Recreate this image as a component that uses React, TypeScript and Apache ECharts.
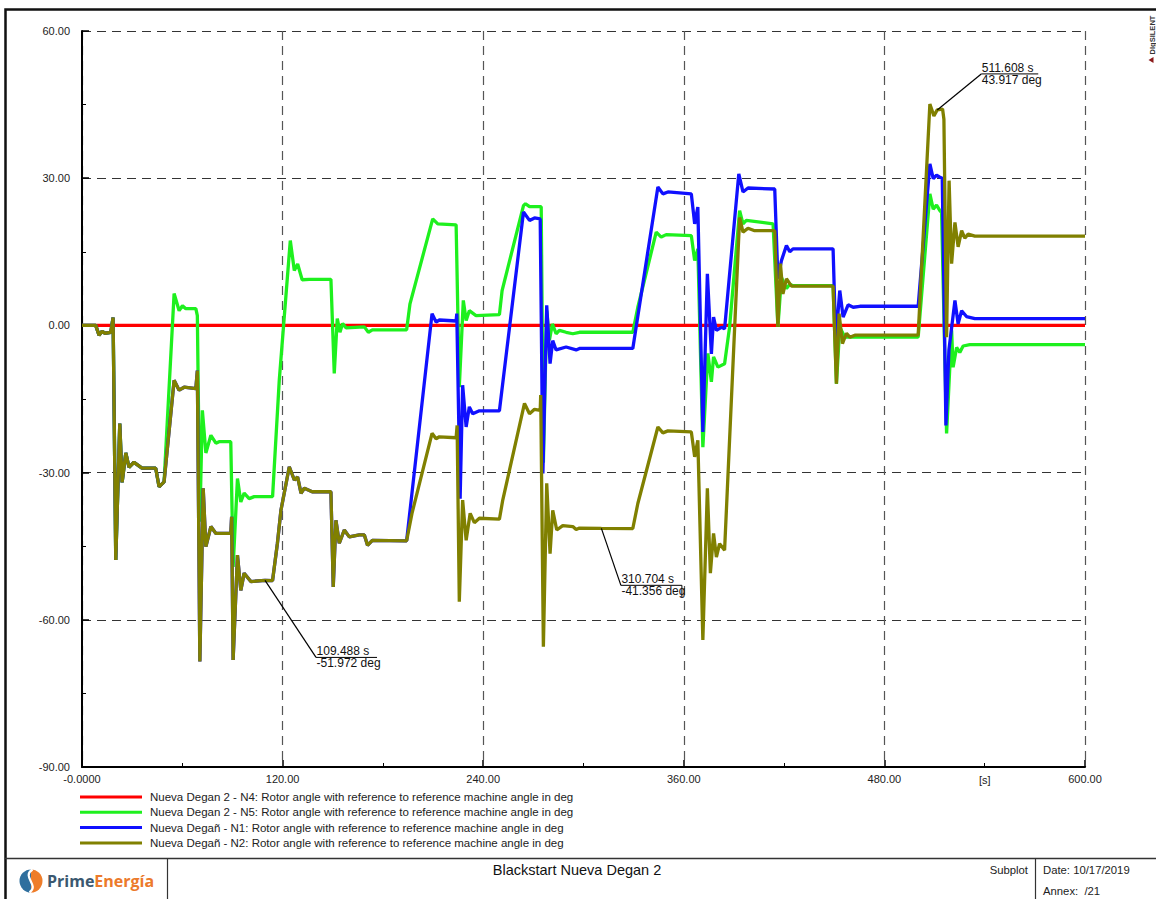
import React, { useEffect, useRef } from "react";
import * as echarts from "echarts";

const WIDTH = 1156;
const HEIGHT = 899;
const FONT = "'Liberation Sans', Arial, sans-serif";

const seriesNames = [
  "Nueva Degan 2 - N4: Rotor angle with reference to reference machine angle in deg",
  "Nueva Degan 2 - N5: Rotor angle with reference to reference machine angle in deg",
  "Nueva Degañ - N1: Rotor angle with reference to reference machine angle in deg",
  "Nueva Degañ - N2: Rotor angle with reference to reference machine angle in deg",
];
const seriesColors = ["#ff0000", "#1ef01e", "#1010ff", "#808000"];

// Axes: time in s, rotor angle in deg
const timeMin = 0;
const timeMax = 600;
const timeStep = 120;
const angleMin = -90;
const angleMax = 60;
const angleStep = 30;

type Pt = [number, number];

// First switching transient, common to N5, N1 and N2
const startTransient: Pt[] = [
  [0, 0], [8.2, 0], [10.2, -2.0], [12.0, -1.2], [13.8, -1.6], [17.2, -1.4], [18.6, 1.6],
  [20.2, -47.8], [22.6, -20.0], [24.0, -32.0], [26.2, -26.0], [28.1, -28.9], [31.1, -27.9],
  [35.9, -29.1], [44.1, -29.1], [46.1, -32.9], [49.1, -31.9],
];

// N1 and N2 swing together until ~194 s
const n1n2Mid: Pt[] = [
  [55.1, -11.2], [58.1, -13.2], [61.1, -12.6], [68.1, -12.9], [69.0, -9.2], [70.5, -68.5],
  [72.5, -33.2], [74.1, -45.1], [77.1, -41.0], [80.1, -42.4], [89.0, -42.4], [89.5, -39.0],
  [90.4, -68.2], [93.0, -46.8], [95.0, -54.0], [97.0, -50.5], [101.0, -52.2], [109.488, -51.972],
  [114.0, -52.0], [116.9, -44.4], [119.0, -37.7], [124.0, -28.8], [127.0, -31.5], [129.0, -30.9],
  [131.0, -34.2], [133.0, -33.2], [137.7, -33.9], [148.9, -33.9], [150.3, -53.3], [151.9, -39.7],
  [153.9, -44.4], [156.9, -41.7], [159.9, -43.1], [165.9, -42.7], [168.9, -42.7], [170.8, -44.8],
  [173.7, -43.8], [194.2, -43.9],
];

const n4Angle: Pt[] = [[0, 0], [600, 0]];

const n5Tail: Pt[] = [
  [55.1, 6.5], [58.1, 3.0], [60.1, 4.0], [62.1, 3.4], [68.1, 3.4], [69.0, 2.0], [70.5, -40.0],
  [72.0, -17.3], [74.1, -26.0], [77.1, -22.4], [80.1, -24.0], [82.0, -23.7], [89.0, -23.7],
  [90.4, -49.2], [93.0, -31.2], [95.0, -36.0], [97.0, -34.2], [100.0, -35.3], [103.0, -34.9],
  [114.0, -34.9], [118.0, -11.2], [124.6, 17.3], [127.0, 11.2], [129.0, 12.5], [131.7, 9.3],
  [135.9, 9.4], [148.9, 9.4], [150.9, -9.8], [152.7, 1.4], [154.3, -1.4], [155.9, 0.4],
  [157.9, -0.5], [168.9, -0.3], [171.3, -1.4], [173.7, -0.9], [194.2, -0.9], [196.2, 4.4],
  [209.8, 21.7], [212.8, 20.7], [223.8, 20.5], [225.7, -12.6], [228.1, 5.1], [229.8, 1.0],
  [231.7, 3.0], [235.7, 2.0], [249.7, 2.2], [251.3, 7.1], [264.1, 24.4], [265.3, 24.8],
  [267.7, 24.2], [274.7, 24.2], [276.0, -28.0], [278.0, 3.0], [279.6, -3.0], [281.4, 0.3],
  [283.6, -1.7], [285.6, -1.0], [289.6, -1.4], [293.6, -1.7], [297.6, -1.4], [329.5, -1.4],
  [332.5, 3.7], [343.5, 19.0], [346.5, 18.0], [349.5, 18.5], [364.5, 18.3], [366.5, 13.2],
  [368.4, 15.6], [371.4, -24.8], [374.4, -5.7], [376.5, -11.5], [377.8, -6.4], [380.4, -8.5],
  [384.4, -7.8], [387.4, -0.3], [393.4, 23.4], [395.4, 20.7], [397.4, 21.4], [413.4, 20.7],
  [416.3, -0.3], [418.4, 9.8], [421.4, 7.5], [423.4, 8.4], [425.3, 8.1], [449.3, 8.1],
  [451.3, -11.9], [453.3, -0.3], [456.3, -2.4], [500.2, -2.4], [507.2, 26.8], [509.2, 23.7],
  [511.2, 24.5], [513.2, 23.4], [514.2, 23.0], [517.2, -22.0], [520.2, -1.0], [521.1, -8.5],
  [523.2, -4.5], [525.1, -5.5], [527.1, -4.2], [531.1, -3.9], [600, -3.9],
];

const n1Tail: Pt[] = [
  [209.4, 2.4], [211.8, 0.7], [213.8, 1.1], [223.8, 0.9], [224.2, 2.4], [226.2, -35.3],
  [227.7, -12.2], [229.8, -20.7], [231.7, -16.6], [233.7, -18.0], [237.7, -17.4], [249.7, -17.4],
  [264.1, 23.1], [267.7, 21.4], [270.7, 21.9], [274.1, 21.7], [275.7, -30.2], [278.0, 4.1],
  [280.0, -7.8], [281.6, -3.1], [283.6, -5.0], [289.6, -4.4], [295.6, -5.0], [297.6, -4.7],
  [329.5, -4.7], [344.5, 28.2], [347.5, 26.8], [350.5, 27.2], [364.5, 26.8], [366.5, 20.7],
  [368.4, 24.1], [371.4, -21.7], [374.1, 10.5], [376.5, -5.8], [377.8, 1.7], [379.5, -1.0],
  [382.5, -0.4], [384.4, -0.7], [392.9, 30.9], [395.4, 27.2], [398.4, 28.0], [414.4, 27.8],
  [416.3, 9.5], [418.4, 13.2], [421.4, 16.3], [423.4, 15.0], [425.3, 15.6], [449.3, 15.6],
  [450.9, -3.1], [453.3, 7.1], [455.3, 1.7], [458.3, 4.2], [461.3, 3.7], [465.3, 3.9],
  [500.2, 3.9], [507.2, 32.9], [509.2, 29.9], [511.2, 30.6], [513.2, 30.2], [514.6, 30.0],
  [516.8, -20.4], [518.6, -5.0], [522.2, 5.1], [524.1, 0.3], [526.2, 3.0], [529.1, 1.8],
  [534.1, 1.4], [600, 1.4],
];

const n2Tail: Pt[] = [
  [197.4, -38.3], [209.4, -22.0], [211.8, -23.1], [213.8, -22.7], [223.8, -22.9], [224.4, -20.4],
  [225.7, -56.3], [227.7, -35.6], [229.8, -43.8], [232.2, -38.3], [234.7, -40.2], [237.7, -39.3],
  [249.7, -39.5], [251.7, -35.6], [264.7, -15.9], [267.7, -18.0], [270.7, -17.1], [274.1, -17.3],
  [274.4, -14.2], [276.0, -65.5], [278.0, -32.2], [280.0, -46.5], [281.6, -37.7], [284.0, -41.7],
  [287.6, -40.8], [293.6, -41.0], [295.6, -41.6], [297.6, -41.3], [310.704, -41.356], [329.5, -41.4],
  [332.5, -36.3], [344.5, -20.7], [347.5, -21.9], [350.5, -21.5], [364.5, -21.7], [366.5, -26.8],
  [368.4, -23.4], [371.4, -64.1], [374.1, -33.2], [375.9, -50.5], [377.8, -42.4], [379.5, -47.2],
  [381.4, -44.5], [384.4, -45.8], [393.4, 22.0], [395.4, 19.0], [398.4, 19.8], [402.4, 19.3],
  [414.4, 19.3], [416.3, -0.3], [417.8, 12.6], [419.3, 6.4], [421.4, 9.5], [424.4, 8.0],
  [449.3, 8.0], [451.3, -11.9], [452.9, 2.4], [454.9, -3.7], [457.3, -1.6], [459.3, -2.4],
  [462.3, -2.0], [500.2, -2.0], [507.2, 45.1], [509.6, 42.7], [511.608, 43.917], [514.8, 44.1],
  [515.6, 42.0], [517.2, -2.4], [518.7, 29.5], [520.2, 12.6], [522.2, 21.0], [524.1, 16.0],
  [526.2, 19.3], [528.1, 17.8], [530.1, 18.6], [534.1, 18.2], [600, 18.2],
];

const n5Angle: Pt[] = [...startTransient, ...n5Tail];
const n1Angle: Pt[] = [...startTransient, ...n1n2Mid, ...n1Tail];
const n2Angle: Pt[] = [...startTransient, ...n1n2Mid, ...n2Tail];
const seriesData = [n4Angle, n5Angle, n1Angle, n2Angle];

// Cursor read-outs on the N2 curve
const markerTimes = [109.488, 310.704, 511.608];
const markerAngles = [-51.972, -41.356, 43.917];
const calloutLayout = [
  { dx: 51, dy: 77, len: 61, bar: false },
  { dx: 19.5, dy: 57, len: 61, bar: true },
  { dx: 44, dy: -36, len: 57, bar: false },
];

const unitTick = 540;

function buildGraphic(chart: echarts.ECharts) {
  const px = (t: number, v: number) =>
    chart.convertToPixel({ gridIndex: 0 }, [t, v]) as number[];
  const g: any[] = [];
  const line = (x1: number, y1: number, x2: number, y2: number, w = 1, c = "#111") =>
    g.push({
      type: "line",
      silent: true,
      shape: { x1, y1, x2, y2 },
      style: { stroke: c, lineWidth: w },
      z: 50,
    });
  const text = (x: number, y: number, s: string, opts: any = {}) =>
    g.push({
      type: "text",
      silent: true,
      x,
      y,
      z: 50,
      style: {
        text: s,
        fontFamily: FONT,
        fontSize: 11,
        fill: "#222",
        align: "left",
        verticalAlign: "middle",
        ...opts,
      },
    });

  // page frame and footer boxes
  g.push({
    type: "rect",
    silent: true,
    shape: { x: 5.5, y: 9.5, width: 1300, height: 1000 },
    style: { fill: "none", stroke: "#111", lineWidth: 2.5 },
    z: 50,
  });
  line(5, 858.5, WIDTH, 858.5, 1.5, "#333");
  line(167.5, 858.5, 167.5, HEIGHT, 1.2, "#333");
  line(1035.5, 858.5, 1035.5, HEIGHT, 1.2, "#333");

  text(577, 870, "Blackstart Nueva Degan 2", { align: "center", fontSize: 14.5, fill: "#111" });
  text(1028, 870, "Subplot", { align: "right", fontSize: 11.3 });
  text(1043, 870, "Date: 10/17/2019", { fontSize: 11.3 });
  text(1043, 891, "Annex:  /21", { fontSize: 11.3 });

  // logo
  const lx = 31;
  const ly = 881;
  g.push({
    type: "sector",
    silent: true,
    shape: { cx: lx, cy: ly, r: 11.5, r0: 0, startAngle: Math.PI / 2, endAngle: (Math.PI * 3) / 2 },
    style: { fill: "#2f6f9e" },
    z: 50,
  });
  g.push({
    type: "sector",
    silent: true,
    shape: { cx: lx, cy: ly, r: 11.5, r0: 0, startAngle: -Math.PI / 2, endAngle: Math.PI / 2 },
    style: { fill: "#ee7d2a" },
    z: 50,
  });
  g.push({
    type: "bezierCurve",
    silent: true,
    shape: { x1: lx + 1.5, y1: ly - 11.5, cpx1: lx - 10, cpy1: ly - 4, cpx2: lx + 9, cpy2: ly + 4, x2: lx - 1.5, y2: ly + 11.5 },
    style: { stroke: "#fff", lineWidth: 2.2, fill: "none" },
    z: 51,
  });
  g.push({
    type: "text",
    silent: true,
    x: 47,
    y: 881,
    z: 50,
    style: {
      text: "{p|Prime}{e|Energía}",
      fontFamily: "'Open Sans', sans-serif",
      fontWeight: "bold",
      fontSize: 16,
      verticalAlign: "middle",
      rich: {
        p: { fill: "#3b5870", fontWeight: "bold", fontSize: 16, fontFamily: "'Open Sans', sans-serif" },
        e: { fill: "#ec7a2b", fontWeight: "bold", fontSize: 16, fontFamily: "'Open Sans', sans-serif" },
      },
    },
  });

  // vertical program mark in the corner
  g.push({
    type: "text",
    silent: true,
    x: 1152,
    y: 35,
    rotation: Math.PI / 2,
    z: 50,
    style: {
      text: "DIgSILENT",
      fontFamily: FONT,
      fontSize: 7.5,
      fontWeight: "bold",
      fill: "#333",
      align: "center",
      verticalAlign: "middle",
    },
  });
  g.push({
    type: "polygon",
    silent: true,
    shape: { points: [[1148.5, 60], [1153.5, 57], [1153.5, 63]] },
    style: { fill: "#8b1a1a" },
    z: 50,
  });

  // unit label on the time axis
  const u = px(unitTick, angleMin);
  text(u[0], 779.5, "[s]", { align: "center" });

  // cursor read-outs
  markerTimes.forEach((t, i) => {
    const v = markerAngles[i];
    const p = px(t, v);
    const L = calloutLayout[i];
    const ax = p[0] + L.dx;
    const ay = p[1] + L.dy;
    line(p[0], p[1], ax, ay, 1.2, "#000");
    line(ax, ay, ax + L.len, ay, 1, "#000");
    if (L.bar) line(ax + L.len, ay, ax + L.len, ay + 12, 1, "#000");
    text(ax + 0.5, ay - 6, `${t.toFixed(3)} s`, { fill: "#111", fontSize: 12 });
    text(ax + 0.5, ay + 6, `${v.toFixed(3)} deg`, { fill: "#111", fontSize: 12 });
  });

  return g;
}

export default function App() {
  const ref = useRef<HTMLDivElement>(null);

  useEffect(() => {
    const chart = echarts.init(ref.current!, null, { renderer: "svg" });
    const option: any = {
      animation: false,
      backgroundColor: "#ffffff",
      textStyle: { fontFamily: FONT },
      grid: { left: 82, right: 71, top: 31, bottom: 132, containLabel: false },
      xAxis: {
        type: "value",
        min: timeMin,
        max: timeMax,
        interval: timeStep,
        axisLine: { show: true, onZero: false, lineStyle: { color: "#000", width: 2 } },
        axisTick: { show: true, inside: true, length: 7, lineStyle: { color: "#000", width: 1.5 } },
        minorTick: { show: true, splitNumber: 2, length: 4, lineStyle: { color: "#000", width: 1 } },
        axisLabel: {
          color: "#222",
          fontSize: 11,
          margin: 6,
          showMinLabel: true,
          showMaxLabel: true,
          formatter: (v: number) => (v === 0 ? "-0.0000" : v.toFixed(2)),
        },
        splitLine: { show: true, lineStyle: { color: "#555", type: [9, 6], width: 1.2 } },
      },
      yAxis: {
        type: "value",
        min: angleMin,
        max: angleMax,
        interval: angleStep,
        axisLine: { show: true, onZero: false, lineStyle: { color: "#000", width: 2 } },
        axisTick: { show: true, inside: true, length: 7, lineStyle: { color: "#000", width: 1.5 } },
        minorTick: { show: true, splitNumber: 2, length: 4, lineStyle: { color: "#000", width: 1 } },
        axisLabel: {
          color: "#222",
          fontSize: 11,
          margin: 12,
          showMinLabel: true,
          showMaxLabel: true,
          formatter: (v: number) => v.toFixed(2),
        },
        splitLine: { show: true, lineStyle: { color: "#333", type: [9, 6], width: 1.2 } },
      },
      legend: {
        orient: "vertical",
        left: 75,
        top: 785,
        icon: "rect",
        itemWidth: 62,
        itemHeight: 3,
        itemGap: 1.3,
        selectedMode: false,
        textStyle: { fontSize: 11.5, color: "#222", lineHeight: 14, padding: [0, 0, 0, 3], fontFamily: FONT },
        data: seriesNames,
      },
      series: seriesNames.map((name, i) => ({
        type: "line",
        name,
        data: seriesData[i],
        showSymbol: false,
        symbol: "none",
        z: 2 + i,
        lineStyle: { width: 3.3, color: seriesColors[i] },
        itemStyle: { color: seriesColors[i] },
        emphasis: { disabled: true },
      })),
    };
    chart.setOption(option);
    chart.setOption({ graphic: buildGraphic(chart) });
    return () => chart.dispose();
  }, []);

  return (
    <div
      ref={ref}
      style={{ position: "absolute", left: 0, top: 0, width: WIDTH, height: HEIGHT, background: "#fff" }}
    />
  );
}
